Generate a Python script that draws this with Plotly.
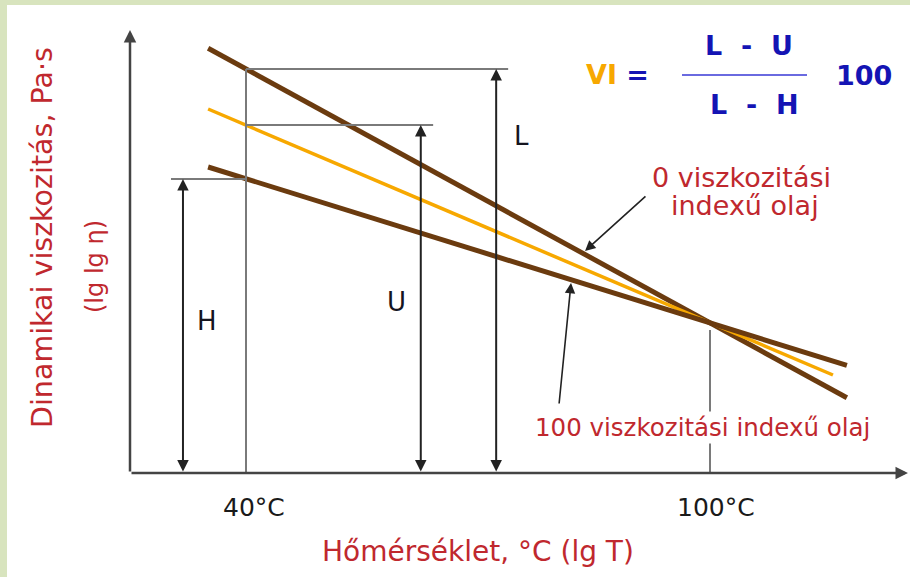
import plotly.graph_objects as go

# ---------------- data (schematic units) ----------------
# x: temperature position (40 °C -> 40, 100 °C -> 100), y: lg lg eta (axis base = 0)
temp_ticks = [40, 100]
temp_labels = ["40°C", "100°C"]

line_x = [35.1, 117.7]
vi0_y = [10.62, 1.88]      # 0 viszkozitási indexű olaj
vi100_y = [7.65, 2.69]     # 100 viszkozitási indexű olaj
oil_x = [35.1, 115.9]
oil_y = [9.10, 2.45]       # vizsgált olaj

L_val = 10.1               # viscosity of VI=0 oil at 40 °C
U_val = 8.7                # viscosity of tested oil at 40 °C
H_val = 7.35               # viscosity of VI=100 oil at 40 °C
tick100_top = 3.575

guide_L_end = 73.9
guide_U_end = 64.2
guide_H_start = 30.3
arrow_x = {"H": 31.85, "U": 62.6, "L": 72.35}
arrow_top = {"H": H_val, "U": U_val, "L": L_val}

axis_origin = (25, 0)
axis_x_end = 125.6
axis_y_end = 11.075

ptr_vi0 = {"tail": (91.85, 6.95), "tip": (83.84, 5.55)}
ptr_vi100 = {"tail": (80.47, 1.70), "tip": (82.03, 4.75)}

# ---------------- styling ----------------
W, H = 910, 577
BROWN = "#6b3b0f"
ORANGE = "#f7a800"
GUIDE = "#7a7a7a"
RED = "#c0282e"
BLUE = "#1414b4"
FONT = "DejaVu Sans"

x_range = [9.095, 125.862]
y_range = [-2.6, 11.7]

fig = go.Figure()

# oil lines
fig.add_trace(go.Scatter(x=line_x, y=vi0_y, mode="lines",
                         line=dict(color=BROWN, width=5), name="VI 0"))
fig.add_trace(go.Scatter(x=oil_x, y=oil_y, mode="lines",
                         line=dict(color=ORANGE, width=3.5), name="olaj"))
fig.add_trace(go.Scatter(x=line_x, y=vi100_y, mode="lines",
                         line=dict(color=BROWN, width=5), name="VI 100"))

# guide lines
t40 = temp_ticks[0]
t100 = temp_ticks[1]
guides = [
    ([t40, t40], [0, L_val]),
    ([t40, guide_L_end], [L_val, L_val]),
    ([t40, guide_U_end], [U_val, U_val]),
    ([guide_H_start, t40], [H_val, H_val]),
    ([t100, t100], [0, tick100_top]),
]
for gx, gy in guides:
    fig.add_trace(go.Scatter(x=gx, y=gy, mode="lines",
                             line=dict(color=GUIDE, width=2), hoverinfo="skip"))

ann = []

def arrow(tip, tail, width=2, size=1.1, color="#333333", both=False):
    d = dict(x=tip[0], y=tip[1], ax=tail[0], ay=tail[1], xref="x", yref="y",
             axref="x", ayref="y", text="", showarrow=True, arrowhead=2,
             arrowsize=size, arrowwidth=width, arrowcolor=color)
    if both:
        d.update(arrowside="end+start", startarrowhead=2, startarrowsize=size)
    ann.append(d)

# axes
arrow((axis_origin[0], axis_y_end), axis_origin, width=2.5, size=1.0, color="#444444")
arrow((axis_x_end, axis_origin[1]), axis_origin, width=2.5, size=1.0, color="#444444")

# double arrows L, U, H
for k in ["H", "U", "L"]:
    arrow((arrow_x[k], arrow_top[k]), (arrow_x[k], 0), width=2, size=1.15,
          color="#222222", both=True)

# pointers
arrow(ptr_vi0["tip"], ptr_vi0["tail"], width=1.6, size=1.3, color="#222222")
arrow(ptr_vi100["tip"], ptr_vi100["tail"], width=1.6, size=1.3, color="#222222")

def px(xp):
    return xp / W

def py(yp):
    return 1 - yp / H

def text(t, xp, yp, size, color, bold=False, angle=0, bg=None, family=FONT):
    d = dict(x=px(xp), y=py(yp), xref="paper", yref="paper", text=t,
             showarrow=False, xanchor="center", yanchor="middle", textangle=angle,
             font=dict(family=family, size=size, color=color,
                       weight="bold" if bold else "normal"))
    if bg:
        d.update(bgcolor=bg)
    ann.append(d)

# letters
text("L", 521, 136, 26, "#15151f")
text("U", 396, 302, 26, "#15151f")
text("H", 207, 321, 26, "#15151f")

# tick labels
for tv, tl, xp in zip(temp_ticks, temp_labels, [254, 716]):
    text(tl, xp, 507, 25, "#1a1a1a")

# red labels
text("0 viszkozitási", 741, 177, 27, RED)
text("indexű olaj", 745, 205, 27, RED)
text("100 viszkozitási indexű olaj", 702, 427, 24.5, RED, bg="white")

# axis titles
text("Hőmérséklet, °C (lg T)", 478, 551, 28, RED)
text("Dinamikai viszkozitás, Pa·s", 42, 238, 28.5, RED, angle=-90)
text("(lg lg η)", 95, 267, 24, RED, angle=-90)

# formula
NB = "\u00a0"
text(f"<span style='color:{ORANGE}'>VI</span> =", 617, 74, 27, BLUE, bold=True)
text(f"L{NB}{NB}-{NB}{NB}U", 749, 46, 27, BLUE, bold=True)
text(f"L{NB}{NB}-{NB}{NB}H", 754, 104, 27, BLUE, bold=True)
text("100", 864, 75, 27, BLUE, bold=True)

shapes = [dict(type="line", xref="paper", yref="paper", x0=px(682), x1=px(807),
               y0=py(75), y1=py(75), line=dict(color="#6a6ae0", width=2))]

fig.update_layout(
    width=W, height=H,
    margin=dict(l=0, r=0, t=0, b=0),
    paper_bgcolor="#d8e4be",
    plot_bgcolor="white",
    showlegend=False,
    xaxis=dict(range=x_range, domain=[7 / W, 1], visible=False, fixedrange=True),
    yaxis=dict(range=y_range, domain=[0, 1 - 5 / H], visible=False, fixedrange=True),
    annotations=ann,
    shapes=shapes,
)

fig.write_html(
    "out.html",
    config={"displayModeBar": False},
    post_script="document.body.style.margin='0';document.body.style.overflow='hidden';",
)
